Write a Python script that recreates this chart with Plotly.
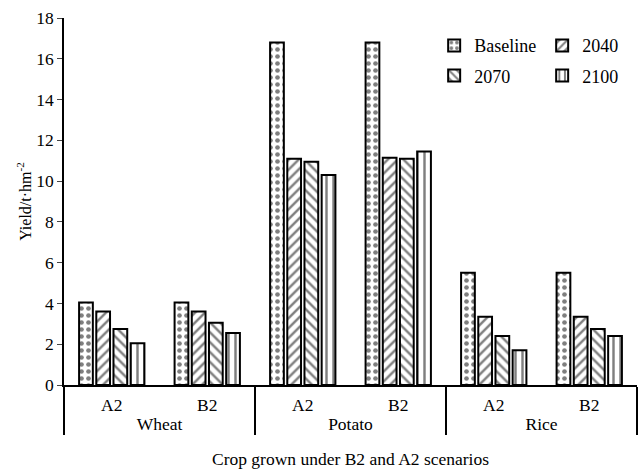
import plotly.graph_objects as go

crops = ["Wheat", "Wheat", "Potato", "Potato", "Rice", "Rice"]
scenarios = ["A2", "B2", "A2", "B2", "A2", "B2"]
series_names = ["Baseline", "2040", "2070", "2100"]
baseline = [4.05, 4.05, 16.8, 16.8, 5.5, 5.5]
y2040 = [3.6, 3.6, 11.1, 11.15, 3.35, 3.35]
y2070 = [2.75, 3.05, 10.95, 11.1, 2.4, 2.75]
y2100 = [2.05, 2.55, 10.3, 11.45, 1.7, 2.4]
y_ticks = [0, 2, 4, 6, 8, 10, 12, 14, 16, 18]

values = [baseline, y2040, y2070, y2100]
shapes = [".", "/", "\\", "|"]
legends = ["legend", "legend", "legend2", "legend2"]

font = dict(family="Liberation Serif", size=17.5, color="black")
legfont = dict(family="Liberation Serif", size=18, color="black")
ytfont = dict(family="Liberation Serif", size=16, color="black")

fig = go.Figure()
for name, vals, shp, lg in zip(series_names, values, shapes, legends):
    fig.add_trace(go.Bar(
        x=[crops, scenarios], y=vals, name=name, legend=lg,
        marker=dict(color="white", line=dict(color="black", width=2),
                    pattern=dict(shape=shp, fgcolor="black", bgcolor="white",
                                 size=7, solidity=0.35)),
    ))

fig.update_layout(
    width=643, height=473,
    margin=dict(l=64, r=6, t=18, b=88, autoexpand=False),
    paper_bgcolor="white", plot_bgcolor="white",
    font=font,
    barmode="group", bargap=0.28, bargroupgap=0.2,
    legend=dict(orientation="h", x=0.646, y=0.975, xanchor="left", yanchor="top",
                entrywidth=63, entrywidthmode="pixels", font=legfont,
                itemwidth=30, tracegroupgap=0, bgcolor="rgba(0,0,0,0)"),
    legend2=dict(orientation="h", x=0.646, y=0.893, xanchor="left", yanchor="top",
                 entrywidth=63, entrywidthmode="pixels", font=legfont,
                 itemwidth=30, tracegroupgap=0, bgcolor="rgba(0,0,0,0)"),
    showlegend=True,
)
fig.update_yaxes(range=[0, 18], tickvals=y_ticks, ticks="outside", ticklen=5,
                 showline=True, linecolor="black", linewidth=1.5, showgrid=False,
                 zeroline=False, tickfont=font,
                 title=dict(text="Yield/t·hm<sup>-2</sup>", font=ytfont, standoff=1))
fig.update_xaxes(type="multicategory", range=[-0.5, 5.5], showline=True,
                 linecolor="black", linewidth=1.5,
                 showdividers=True, dividercolor="black", dividerwidth=1.5,
                 ticks="", tickfont=font, showgrid=False, ticklabelstandoff=3,
                 title=dict(text="Crop grown under B2 and A2 scenarios", font=font, standoff=20))

fig.write_html("out.html", config={"displayModeBar": False},
               post_script="document.body.style.margin='0';")
